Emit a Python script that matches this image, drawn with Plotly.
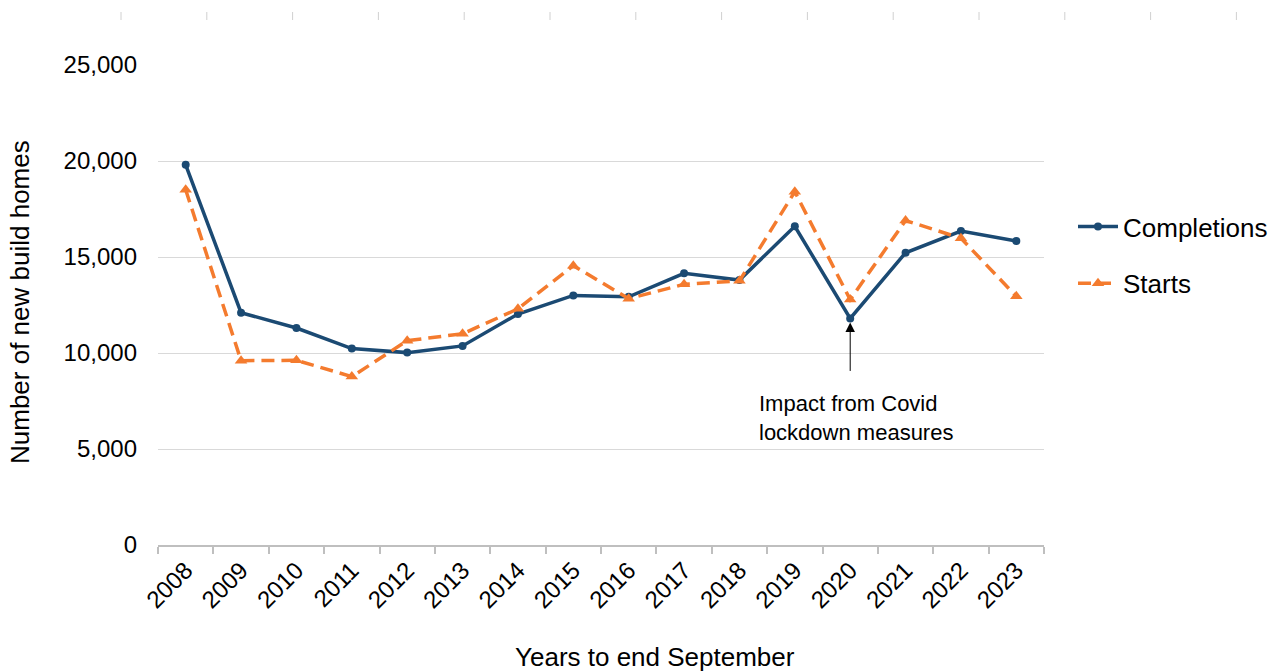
import plotly.graph_objects as go

# New build homes in the year to end September
years = ["2008", "2009", "2010", "2011", "2012", "2013", "2014", "2015",
         "2016", "2017", "2018", "2019", "2020", "2021", "2022", "2023"]
completions = [19800, 12100, 11300, 10230, 10020, 10370, 12030, 13000,
               12930, 14150, 13800, 16600, 11800, 15220, 16350, 15830]
starts = [18500, 9600, 9620, 8770, 10640, 11000, 12300, 14550,
          12830, 13580, 13760, 18400, 12780, 16900, 15980, 12950]

y_ticks = [0, 5000, 10000, 15000, 20000, 25000]

W, H = 1282, 672
L, R, T, B = 158, 238, 65, 127
PW, PH = W - L - R, H - T - B


def px_x(px):
    return (px - L) / PW


def px_y(py):
    return (H - B - py) / PH


FONT = "Liberation Sans, Arial, sans-serif"
BLUE = "#1b4a73"
ORANGE = "#f47b2e"

fig = go.Figure()
fig.add_trace(go.Scatter(
    x=years, y=completions, name="Completions", mode="lines+markers",
    line=dict(color=BLUE, width=3.5),
    marker=dict(symbol="circle", size=8, color=BLUE),
    legendgroup="c",
))
fig.add_trace(go.Scatter(
    x=years, y=starts, name="Starts", mode="lines+markers",
    line=dict(color=ORANGE, width=3.5, dash="13px,7px"),
    marker=dict(symbol="triangle-up", size=11, color=ORANGE),
    legendgroup="s",
))

# Arrow pointing at the 2020 dip (category index on the x axis)
i2020 = years.index("2020")
fig.add_annotation(
    x=i2020, y=completions[i2020], xref="x", yref="y",
    text="", showarrow=True, arrowhead=2, arrowsize=1.9, arrowwidth=1,
    arrowcolor="#000000", ax=0, ay=54, standoff=4,
)
fig.add_annotation(
    x=px_x(757), y=px_y(389), xref="paper", yref="paper",
    text="Impact from Covid<br>lockdown measures", showarrow=False,
    xanchor="left", yanchor="top", align="left",
    font=dict(family=FONT, size=22, color="#000000"),
)

# Axis titles
fig.add_annotation(
    x=px_x(655), y=px_y(657), xref="paper", yref="paper",
    text="Years to end September", showarrow=False,
    xanchor="center", yanchor="middle",
    font=dict(family=FONT, size=26, color="#000000"),
)
fig.add_annotation(
    x=px_x(20), y=px_y(302), xref="paper", yref="paper",
    text="Number of new build homes", showarrow=False, textangle=-90,
    xanchor="center", yanchor="middle",
    font=dict(family=FONT, size=26, color="#000000"),
)

# Faint ruler ticks along the top edge
shapes = []
for i in range(14):
    px = 121 + i * 85.8
    shapes.append(dict(type="line", xref="paper", yref="paper",
                       x0=px_x(px), x1=px_x(px), y0=px_y(12), y1=px_y(20),
                       line=dict(color="#d0d0d0", width=1)))

fig.update_layout(
    width=W, height=H,
    margin=dict(l=L, r=R, t=T, b=B, autoexpand=False),
    paper_bgcolor="#ffffff", plot_bgcolor="#ffffff",
    font=dict(family=FONT, size=24, color="#000000"),
    shapes=shapes,
    showlegend=True,
    legend=dict(
        x=px_x(1073), y=px_y(203), xanchor="left", yanchor="top",
        font=dict(family=FONT, size=26, color="#000000"),
        tracegroupgap=20, itemwidth=40, bgcolor="rgba(0,0,0,0)",
    ),
    xaxis=dict(
        type="category", range=[-0.5, len(years) - 0.5],
        showgrid=False, zeroline=False,
        showline=True, linecolor="#bfbfbf", linewidth=1.5,
        ticks="outside", ticklen=7, tickcolor="#bfbfbf", tickwidth=1.5,
        tickson="boundaries", tickangle=-45,
        tickfont=dict(family=FONT, size=24, color="#000000"),
        automargin=False,
    ),
    yaxis=dict(
        range=[0, 25000], tickvals=y_ticks, tickformat=",",
        showgrid=True, gridcolor="#d9d9d9", gridwidth=1,
        zeroline=False, showline=False, ticks="",
        ticklabelstandoff=20,
        tickfont=dict(family=FONT, size=24, color="#000000"),
        automargin=False,
    ),
)

fig.write_html("out.html")
